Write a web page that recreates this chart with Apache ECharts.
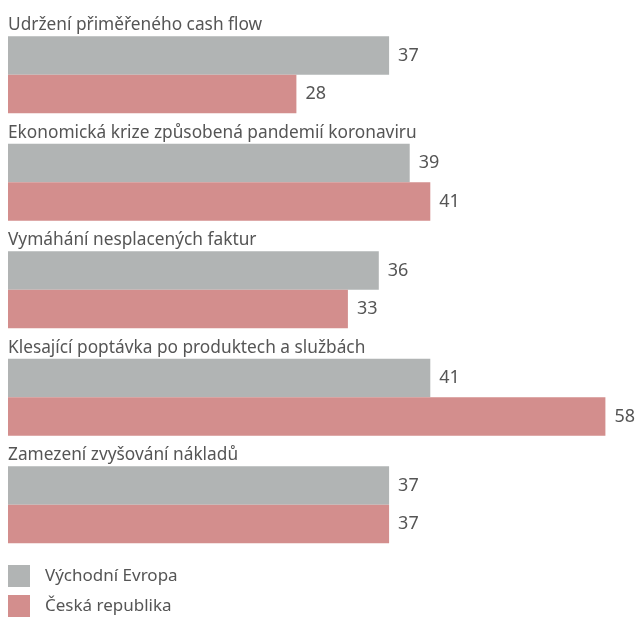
<!DOCTYPE html>
<html>
<head>
<meta charset="utf-8">
<script src="https://cdn.jsdelivr.net/npm/echarts@6/dist/echarts.min.js"></script>
<style>
  html, body { margin: 0; padding: 0; background: #fff; }
  #chart { width: 639px; height: 617px; }
</style>
</head>
<body>
<div id="chart"></div>
<script>
  var categories = [
    'Udržení přiměřeného cash flow',
    'Ekonomická krize způsobená pandemií koronaviru',
    'Vymáhání nesplacených faktur',
    'Klesající poptávka po produktech a službách',
    'Zamezení zvyšování nákladů'
  ];
  var eastEurope = [37, 39, 36, 41, 37];
  var czech = [28, 41, 33, 58, 37];

  var myChart = echarts.init(document.getElementById('chart'));
  var font = '"Noto Sans", sans-serif';
  var labelOption = {
    show: true,
    position: 'right',
    distance: 9,
    color: '#555',
    fontSize: 18,
    fontFamily: font
  };
  var option = {
    animation: false,
    textStyle: { fontFamily: font },
    grid: { left: 8, right: 13, top: 21, height: 537.5 },
    xAxis: {
      type: 'value',
      min: 0,
      max: 60,
      show: false
    },
    yAxis: {
      type: 'category',
      inverse: true,
      data: categories,
      axisLine: { show: false },
      axisTick: { show: false },
      axisLabel: {
        inside: true,
        margin: 0,
        verticalAlign: 'bottom',
        padding: [0, 0, 41, 0],
        color: '#555',
        fontSize: 17.3,
        fontFamily: font
      },
      z: 10
    },
    legend: {
      orient: 'vertical',
      left: 8,
      top: 565,
      padding: 0,
      itemWidth: 22,
      itemHeight: 22,
      itemGap: 8,
      icon: 'rect',
      textStyle: { color: '#555', fontSize: 17, fontFamily: font, padding: [0, 0, 0, 10] },
      data: ['Východní Evropa', 'Česká republika']
    },
    series: [
      {
        name: 'Východní Evropa',
        type: 'bar',
        barWidth: 38.5,
        barGap: 0,
        itemStyle: { color: '#b1b4b4' },
        label: labelOption,
        data: eastEurope
      },
      {
        name: 'Česká republika',
        type: 'bar',
        barWidth: 38.5,
        barGap: 0,
        itemStyle: { color: '#d38e8d' },
        label: labelOption,
        data: czech
      }
    ]
  };
  option && myChart.setOption(option);
</script>
</body>
</html>
